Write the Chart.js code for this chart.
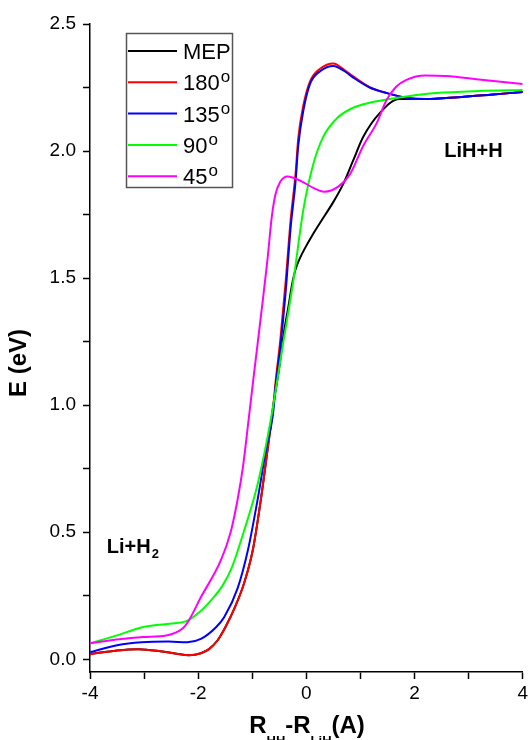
<!DOCTYPE html>
<html>
<head>
<meta charset="utf-8">
<script src="https://cdn.jsdelivr.net/npm/chart.js@4.4.1/dist/chart.umd.min.js"></script>
<style>html,body{margin:0;padding:0;background:#fff;}canvas{display:block;}</style>
</head>
<body>
<canvas id="c" width="531" height="740"></canvas>
<script>
// curves: x = R_HH - R_LiH, E in eV
var xMep=[-4,-3.5,-3.1,-2.7,-2.4,-2.17,-1.95,-1.8,-1.64,-1.5,-1.33,-1.15,-0.99,-0.84,-0.72,-0.61,-0.5,-0.42,-0.33,-0.26,-0.2,-0.12,-0.02,0.1,0.26,0.5,0.68,0.86,1.05,1.36,1.72,2.2,2.8,3.4,4];
var eMep=[0.02,0.035,0.04,0.032,0.022,0.016,0.024,0.04,0.075,0.125,0.2,0.30,0.43,0.63,0.82,1.0,1.15,1.28,1.39,1.48,1.535,1.578,1.62,1.665,1.72,1.80,1.87,1.96,2.055,2.15,2.205,2.205,2.212,2.222,2.232];
var x180=[-4,-3.5,-3.1,-2.7,-2.4,-2.17,-1.95,-1.8,-1.64,-1.5,-1.33,-1.15,-0.99,-0.84,-0.72,-0.61,-0.57,-0.48,-0.385,-0.29,-0.2,-0.15,-0.055,0.07,0.26,0.5,0.7,0.86,1.17,1.49,1.85,2.2,2.8,3.4,4];
var e180=[0.02,0.035,0.04,0.032,0.022,0.016,0.024,0.04,0.075,0.125,0.2,0.30,0.43,0.63,0.82,1.0,1.09,1.26,1.48,1.73,1.91,2.05,2.18,2.275,2.325,2.345,2.32,2.295,2.252,2.228,2.21,2.205,2.212,2.222,2.232];
var x135=[-4,-3.5,-3.05,-2.55,-2.2,-1.95,-1.67,-1.52,-1.27,-1.08,-0.9,-0.75,-0.62,-0.57,-0.48,-0.385,-0.29,-0.2,-0.15,-0.055,0.07,0.26,0.5,0.7,0.86,1.17,1.49,1.85,2.2,2.8,3.4,4];
var e135=[0.028,0.055,0.067,0.07,0.067,0.08,0.126,0.165,0.28,0.43,0.63,0.82,0.96,1.07,1.23,1.44,1.70,1.88,2.02,2.16,2.265,2.315,2.335,2.315,2.29,2.25,2.228,2.21,2.205,2.212,2.222,2.232];
var x90=[-4,-3.5,-3.03,-2.53,-2.22,-1.98,-1.75,-1.55,-1.38,-1.16,-0.9,-0.66,-0.44,-0.24,-0.055,0.13,0.31,0.57,0.86,1.17,1.54,1.85,2.4,3.19,4];
var e90=[0.063,0.094,0.126,0.14,0.15,0.185,0.235,0.29,0.36,0.50,0.69,0.94,1.23,1.49,1.77,1.95,2.055,2.13,2.17,2.19,2.205,2.215,2.228,2.236,2.24];
var x45=[-4,-3.51,-3.02,-2.59,-2.29,-2.17,-1.95,-1.58,-1.4,-1.27,-1.17,-1.08,-0.97,-0.84,-0.72,-0.64,-0.57,-0.48,-0.35,-0.08,0.13,0.33,0.59,0.81,1.05,1.3,1.48,1.66,1.85,2.2,2.58,3.19,4];
var e45=[0.063,0.078,0.088,0.094,0.121,0.154,0.244,0.39,0.5,0.63,0.76,0.92,1.12,1.35,1.57,1.74,1.83,1.88,1.90,1.88,1.855,1.84,1.86,1.91,2.02,2.11,2.20,2.253,2.28,2.297,2.295,2.282,2.264];
var seriesNames=['MEP','180','135','90','45'];
var seriesColors=['#000000','#ff0000','#0000ff','#00ff00','#ff00ff'];
var xTicksMajor=[-4,-2,0,2,4];
var yTicksMajor=[0.0,0.5,1.0,1.5,2.0,2.5];

var FONT='"Liberation Sans", Arial, sans-serif';
Chart.defaults.font.family=FONT;Chart.defaults.color='#000';

var pts=function(xs,es){return xs.map(function(x,i){return {x:x,y:es[i]};});};
var allX=[xMep,x180,x135,x90,x45],allE=[eMep,e180,e135,e90,e45];
var datasets=[];
for(let i=0;i<seriesNames.length;i++){
	datasets.push({label:seriesNames[i],data:pts(allX[i],allE[i]),borderColor:seriesColors[i],borderWidth:2,
		pointRadius:0,fill:false,cubicInterpolationMode:'monotone',order:5-i});
}

// legend, axis titles and the two labels in the plot
var decor={id:'decor',afterDraw:function(chart){var c=chart.ctx;var sx=chart.scales.x,sy=chart.scales.y;c.save();
	// legend box
	c.strokeStyle='#555';c.lineWidth=1.5;c.strokeRect(126.5,33.5,106,154);
	for(let i=0;i<seriesNames.length;i++){let ly=51+i*31.3;
		c.strokeStyle=seriesColors[i];c.lineWidth=2;c.beginPath();c.moveTo(128,ly);c.lineTo(177,ly);c.stroke();
		c.fillStyle='#000';c.font='22px '+FONT;c.textBaseline='alphabetic';c.textAlign='left';
		c.fillText(seriesNames[i],183,ly+8);
		if(i>0){let w=c.measureText(seriesNames[i]).width;c.font='17px '+FONT;c.fillText('o',183+w+1,ly);}
	}
	// x title with subscripts
	var parts=[['R',0],['HH',1],['-R',0],['LiH',1],['(A)',0]];var tot=0;
	parts.forEach(function(p){c.font=(p[1]?'bold 13px ':'bold 24px ')+FONT;p.push(c.measureText(p[0]).width);tot+=p[2];});
	var px=307-tot/2;c.fillStyle='#000';c.textAlign='left';
	parts.forEach(function(p){c.font=(p[1]?'bold 13px ':'bold 24px ')+FONT;c.fillText(p[0],px,p[1]?745:733);px+=p[2];});
	// y title
	c.save();c.translate(26,363);c.rotate(-Math.PI/2);c.font='bold 24px '+FONT;c.textAlign='center';c.fillText('E (eV)',0,0);c.restore();
	// region labels
	c.font='bold 20px '+FONT;c.textAlign='left';
	c.fillText('LiH+H',sx.getPixelForValue(2.55),sy.getPixelForValue(1.976));
	var lx=sx.getPixelForValue(-3.69),lb=sy.getPixelForValue(0.42);c.fillText('Li+H',lx,lb);
	var w2=c.measureText('Li+H').width;c.font='bold 13px '+FONT;c.fillText('2',lx+w2+1,lb+5);
	c.restore();
}};

var tickGrid={display:true,drawOnChartArea:false,drawTicks:true,tickLength:7,tickWidth:1.5,tickColor:'#000'};
new Chart(document.getElementById('c'),{type:'line',data:{datasets:datasets},
	options:{responsive:false,animation:false,events:[],
		layout:{padding:{left:0,right:7,top:24,bottom:0}},
		plugins:{legend:{display:false},tooltip:{enabled:false}},
		scales:{
			x:{type:'linear',min:-4,max:4,
				ticks:{stepSize:1,autoSkip:false,maxRotation:0,padding:3,font:{size:19},color:'#000',
					callback:function(v){return xTicksMajor.indexOf(v)>-1?String(v):'';}},
				grid:tickGrid,border:{display:true,color:'#000',width:1.5},
				afterFit:function(s){s.height=68;}},
			y:{type:'linear',min:-0.05,max:2.5,
				ticks:{stepSize:0.25,includeBounds:false,autoSkip:false,padding:7,font:{size:19},color:'#000',
					callback:function(v){for(let k=0;k<yTicksMajor.length;k++){if(Math.abs(v-yTicksMajor[k])<1e-6){return yTicksMajor[k].toFixed(1);}}return '';}},
				grid:tickGrid,border:{display:true,color:'#000',width:1.5},
				afterFit:function(s){s.width=90;}}
		}},
	plugins:[decor]});
</script>
</body>
</html>
